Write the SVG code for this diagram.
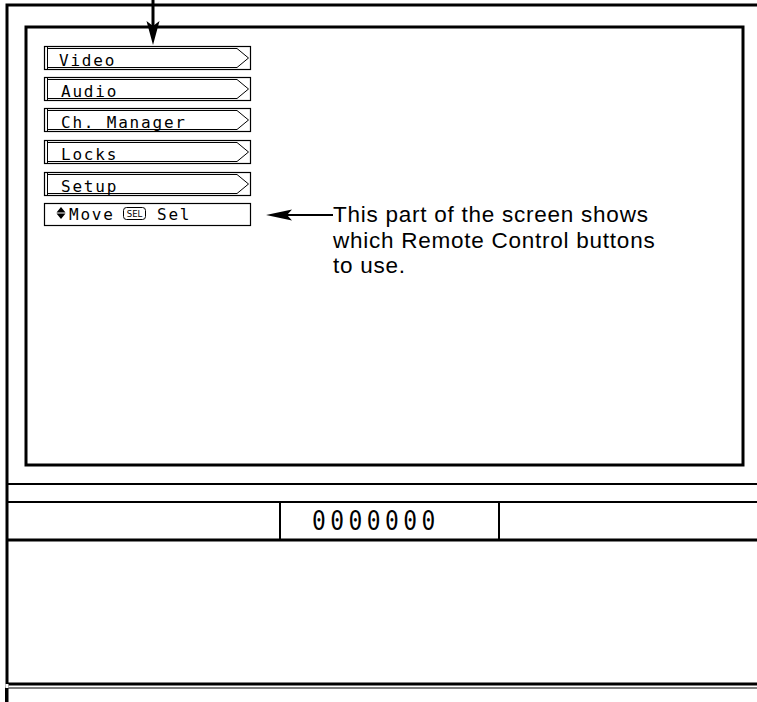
<svg xmlns="http://www.w3.org/2000/svg" width="757" height="702" viewBox="0 0 757 702">
<style>
.ln{stroke:#000;fill:none}
.menu{font-family:"DejaVu Sans Mono","Liberation Mono",monospace;font-size:16px;letter-spacing:1.8px;fill:#000}
.note{font-family:"Liberation Sans",Arial,sans-serif;font-size:22.5px;letter-spacing:0.75px;fill:#000}
.digits{font-family:"DejaVu Sans Mono","Liberation Mono",monospace;font-size:27px;letter-spacing:5.2px;fill:#000}
</style>
<defs>
<g id="mbox">
<rect x="0.5" y="0.5" width="206" height="23" class="ln" stroke-width="1.2"/>
<line x1="3.5" y1="1" x2="3.5" y2="23" class="ln" stroke-width="1"/>
<path d="M3.5,2.5 H193 L204.5,12 L193,21.5 H3.5" class="ln" stroke-width="1"/>
</g>
</defs>
<rect width="757" height="702" fill="#fff"/>

<g id="frame">
<path d="M7,702 V5 H757" class="ln" stroke-width="3"/>
<rect id="screen" x="26" y="27" width="717" height="438" class="ln" stroke-width="3"/>
<line x1="7" y1="484" x2="757" y2="484" class="ln" stroke-width="2"/>
<line x1="8" y1="502" x2="757" y2="502" class="ln" stroke-width="2"/>
<line x1="8" y1="540" x2="757" y2="540" class="ln" stroke-width="3"/>
<line x1="280" y1="502" x2="280" y2="540" class="ln" stroke-width="2"/>
<line x1="499" y1="502" x2="499" y2="540" class="ln" stroke-width="2"/>
<line x1="7" y1="684" x2="757" y2="684" class="ln" stroke-width="3"/>
<line x1="5" y1="688" x2="757" y2="688" class="ln" stroke-width="1"/>
<line x1="6" y1="688" x2="6" y2="702" class="ln" stroke-width="2"/>
<line x1="7" y1="684" x2="7" y2="688" stroke="#fff" stroke-width="3"/>
</g>

<g id="counter">
<text x="312" y="530" class="digits" transform="translate(312 530) scale(0.85 1) translate(-312 -530)">0000000</text>
</g>

<g id="video"><use href="#mbox" x="44" y="46"/><text x="59" y="66" class="menu">Video</text></g>
<g id="audio"><use href="#mbox" x="44" y="77"/><text x="61" y="97" class="menu">Audio</text></g>
<g id="chmanager"><use href="#mbox" x="44" y="108"/><text x="61" y="128" class="menu">Ch. Manager</text></g>
<g id="locks"><use href="#mbox" x="44" y="140"/><text x="61" y="160" class="menu">Locks</text></g>
<g id="setup"><use href="#mbox" x="44" y="172"/><text x="61" y="192" class="menu">Setup</text></g>

<g id="helpbar">
<rect x="44.5" y="203.5" width="206" height="22" class="ln" stroke-width="1.2"/>
<path d="M61,207 L65.5,212.5 H56.5 Z M61,219 L65.5,213.5 H56.5 Z" fill="#000"/>
<text x="69" y="220" class="menu">Move</text>
<rect x="123.5" y="207.5" width="22" height="12" rx="3" class="ln" stroke-width="1"/>
<text x="134.5" y="217" font-family="DejaVu Sans,sans-serif" font-size="8.5" text-anchor="middle" fill="#000">SEL</text>
<text x="157" y="220" class="menu">Sel</text>
</g>

<g id="note">
<text class="note"><tspan x="333" y="222">This part of the screen shows</tspan><tspan x="333" y="247.5">which Remote Control buttons</tspan><tspan x="333" y="273">to use.</tspan></text>
</g>

<g id="connectors">
<line x1="153" y1="0" x2="153" y2="27" class="ln" stroke-width="3"/>
<path d="M146.5,21 L153,45 L159.5,21 L153,26 Z" fill="#000"/>
<line x1="284" y1="215" x2="333" y2="215" class="ln" stroke-width="2"/>
<path d="M266,215 L292,209.5 L287,215 L292,220.5 Z" fill="#000"/>
</g>
</svg>
